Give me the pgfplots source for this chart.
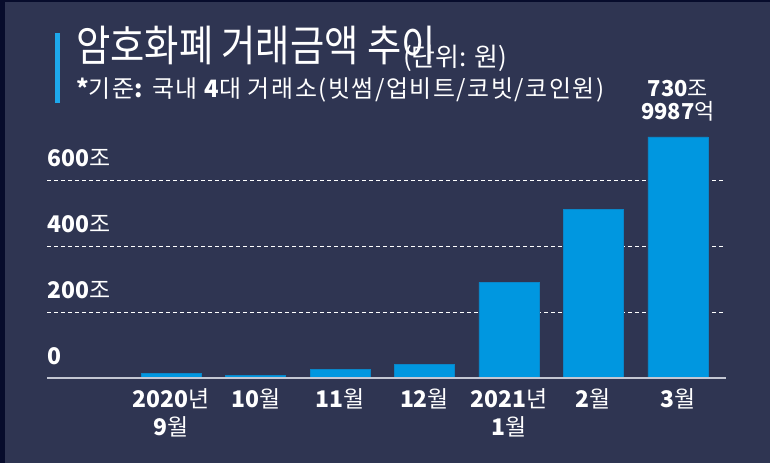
\documentclass[border=0pt]{standalone}
\usepackage{fontspec}
\setmainfont{Noto Sans CJK KR}
\newfontfamily\titlefont[FakeStretch=0.87]{Noto Sans CJK KR}
\newfontfamily\subfont[LetterSpace=6.5]{Noto Sans CJK KR}
\newcommand\B[1]{{\bfseries #1}}
\usepackage{pgfplots}
\pgfplotsset{compat=1.18}
\definecolor{bg}{HTML}{2F3552}
\definecolor{frame}{HTML}{070C2C}
\definecolor{barblue}{HTML}{0097E0}
\definecolor{baredge}{HTML}{0A86C8}
\definecolor{accent}{HTML}{1DA8EC}
\definecolor{baseln}{HTML}{C4C7D3}
\begin{document}
\begin{tikzpicture}
\path[use as bounding box] (0,0) rectangle (770bp,463bp);
\fill[frame] (0,0) rectangle (770bp,463bp);
\fill[bg] (5bp,0) rectangle (770bp,461bp);
\fill[accent] (55bp,430bp) rectangle (60bp,360bp);
\node[anchor=base west, inner sep=0, text=white, font=\titlefont\fontsize{43}{43}\selectfont] at (76bp,401bp) {암호화폐 거래금액 추이};
\node[anchor=base west, inner sep=0, text=white, font=\fontsize{26}{26}\selectfont] at (403bp,396bp) {(단위: 원)};
\node[anchor=base west, inner sep=0, text=white, font=\subfont\fontsize{24}{24}\selectfont] at (76bp,365bp) {\B{*}기준\B{:} 국내 \B{4}대 거래소(빗썸/업비트/코빗/코인원)};
\begin{axis}[
  at={(47bp,85bp)}, anchor=south west,
  scale only axis, width=679bp, height=244.2bp,
  xmin=-1.47, xmax=6.57, ymin=0, ymax=740,
  clip=false,
  ybar, bar width=60bp,
  axis line style={draw=none},
  major tick length=0pt,
  xtick=data,
  xticklabels={{\B{2020}년\\\B{9}월},\B{10}월,\B{11}월,\B{12}월,{\B{2021}년\\\B{1}월},\B{2}월,\B{3}월},
  xticklabel style={align=center, inner sep=0pt, yshift=-10bp, text=white, font=\fontsize{23}{28}\selectfont},
  ytick={200,400,600},
  yticklabels={\B{200}조,\B{400}조,\B{600}조},
  extra y ticks={0},
  extra y tick labels={\B{0}},
  extra tick style={grid=none},
  yticklabel style={anchor=south west, inner sep=0pt, yshift=13bp, text=white, font=\fontsize{23}{23}\selectfont},
  ymajorgrids,
  grid style={white, dash pattern=on 4bp off 3bp, line width=0.8bp},
]
\addplot[fill=barblue, draw=baredge, line width=0.5bp] coordinates {(0,15) (1,8) (2,25) (3,42) (4,290) (5,512) (6,731)};
\draw[baseln, line width=1.6bp] (rel axis cs:0,0) -- (rel axis cs:1,0);
\node[anchor=south, align=center, inner sep=0pt, yshift=15bp, text=white, font=\fontsize{22}{23}\selectfont] at (axis cs:6,731) {\B{730}조\\\B{9987}억};
\end{axis}
\end{tikzpicture}
\end{document}
